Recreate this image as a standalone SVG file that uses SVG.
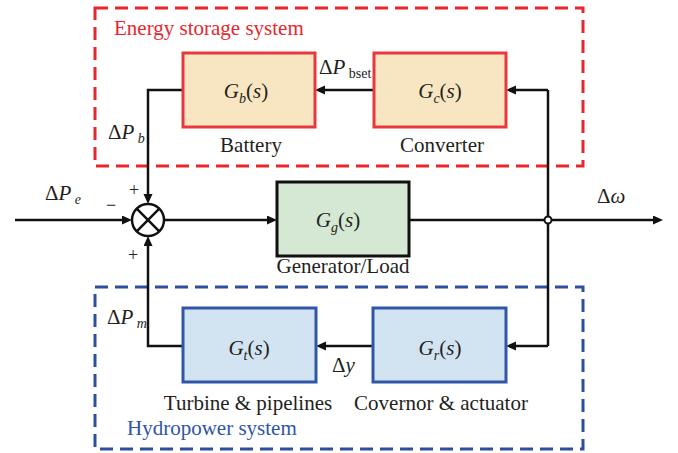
<svg xmlns="http://www.w3.org/2000/svg" width="678" height="453" viewBox="0 0 678 453">
<style>
text{font-family:"Liberation Serif","Times New Roman",serif;fill:#231f20;font-size:21px}
.c{text-anchor:middle}
.i{font-style:italic}
.sub{font-size:14px}
.line{fill:none;stroke:#111;stroke-width:2.5}
.arr{marker-end:url(#ah)}
.redbox{fill:#f8e6c2;stroke:#e8383d;stroke-width:3}
.bluebox{fill:#d2e3f1;stroke:#2f56a7;stroke-width:3}
.greenbox{fill:#d5e8d3;stroke:#111;stroke-width:3}
.reddash{fill:none;stroke:#e8262d;stroke-width:3;stroke-dasharray:13 7}
.bluedash{fill:none;stroke:#2e4f9f;stroke-width:3;stroke-dasharray:13 7}
</style>
<defs>
<marker id="ah" markerUnits="userSpaceOnUse" markerWidth="11" markerHeight="10" refX="6" refY="4.5" orient="auto">
<path d="M0,0 L10,4.5 L0,9 z" fill="#111"/>
</marker>
</defs>

<g id="energy-storage-system">
<rect class="reddash" x="95" y="8" width="488" height="158"/>
<text x="114" y="35" style="fill:#e8262d">Energy storage system</text>
</g>
<g id="hydropower-system">
<rect class="bluedash" x="95" y="287" width="488" height="162"/>
<text x="127" y="435" style="fill:#2e55a6">Hydropower system</text>
</g>

<g id="connectors">
<path class="line arr" d="M15,220 H128"/>
<path class="line arr" d="M164,220 H273"/>
<path class="line arr" d="M409,220 H659"/>
<path class="line" d="M548,90 V346"/>
<path class="line arr" d="M548,90 H510"/>
<path class="line arr" d="M548,346 H510"/>
<path class="line arr" d="M374,90 H319"/>
<path class="line arr" d="M183,90 H148 V200"/>
<path class="line arr" d="M373,346 H320"/>
<path class="line arr" d="M183,346 H148 V240"/>
<circle cx="548" cy="220" r="3.5" fill="#fff" stroke="#111" stroke-width="2"/>
</g>

<g id="sum">
<circle cx="148" cy="220" r="16" fill="#fff" stroke="#111" stroke-width="2.5"/>
<path class="line" d="M136.7,208.7 L159.3,231.3 M159.3,208.7 L136.7,231.3"/>
<text x="134" y="196" class="c" style="font-size:18px">+</text>
<text x="111" y="211" class="c" style="font-size:18px">−</text>
<text x="133" y="261" class="c" style="font-size:18px">+</text>
</g>

<g id="battery">
<rect class="redbox" x="183" y="53" width="132" height="74"/>
<text x="246" y="98" class="c"><tspan class="i">G</tspan><tspan class="i sub" dy="5">b</tspan><tspan dy="-5">(</tspan><tspan class="i">s</tspan>)</text>
<text x="251" y="152" class="c">Battery</text>
</g>

<g id="converter">
<rect class="redbox" x="374" y="53" width="132" height="74"/>
<text x="440" y="98" class="c"><tspan class="i">G</tspan><tspan class="i sub" dy="5">c</tspan><tspan dy="-5">(</tspan><tspan class="i">s</tspan>)</text>
<text x="442" y="152" class="c">Converter</text>
</g>

<g id="generator">
<rect class="greenbox" x="277" y="182" width="132" height="74"/>
<text x="338" y="227" class="c"><tspan class="i">G</tspan><tspan class="i sub" dy="5">g</tspan><tspan dy="-5">(</tspan><tspan class="i">s</tspan>)</text>
<text x="343" y="273" class="c">Generator/Load</text>
</g>

<g id="turbine">
<rect class="bluebox" x="183" y="308" width="133" height="74"/>
<text x="249" y="355" class="c"><tspan class="i">G</tspan><tspan class="i sub" dy="5">t</tspan><tspan dy="-5">(</tspan><tspan class="i">s</tspan>)</text>
<text x="248" y="410" class="c">Turbine &amp; pipelines</text>
</g>

<g id="governor">
<rect class="bluebox" x="373" y="308" width="133" height="74"/>
<text x="440" y="355" class="c"><tspan class="i">G</tspan><tspan class="i sub" dy="5">r</tspan><tspan dy="-5">(</tspan><tspan class="i">s</tspan>)</text>
<text x="441" y="410" class="c">Covernor &amp; actuator</text>
</g>

<g id="labels">
<text x="319" y="74">Δ<tspan class="i">P</tspan><tspan class="sub" dy="4"> bset</tspan></text>
<text x="108" y="139">Δ<tspan class="i">P</tspan><tspan class="i sub" dy="4"> b</tspan></text>
<text x="45" y="200">Δ<tspan class="i">P</tspan><tspan class="i sub" dy="4"> e</tspan></text>
<text x="107" y="324">Δ<tspan class="i">P</tspan><tspan class="i sub" dy="4"> m</tspan></text>
<text x="332" y="372">Δ<tspan class="i">y</tspan></text>
<text x="597" y="203">Δ<tspan class="i">ω</tspan></text>
</g>
</svg>
